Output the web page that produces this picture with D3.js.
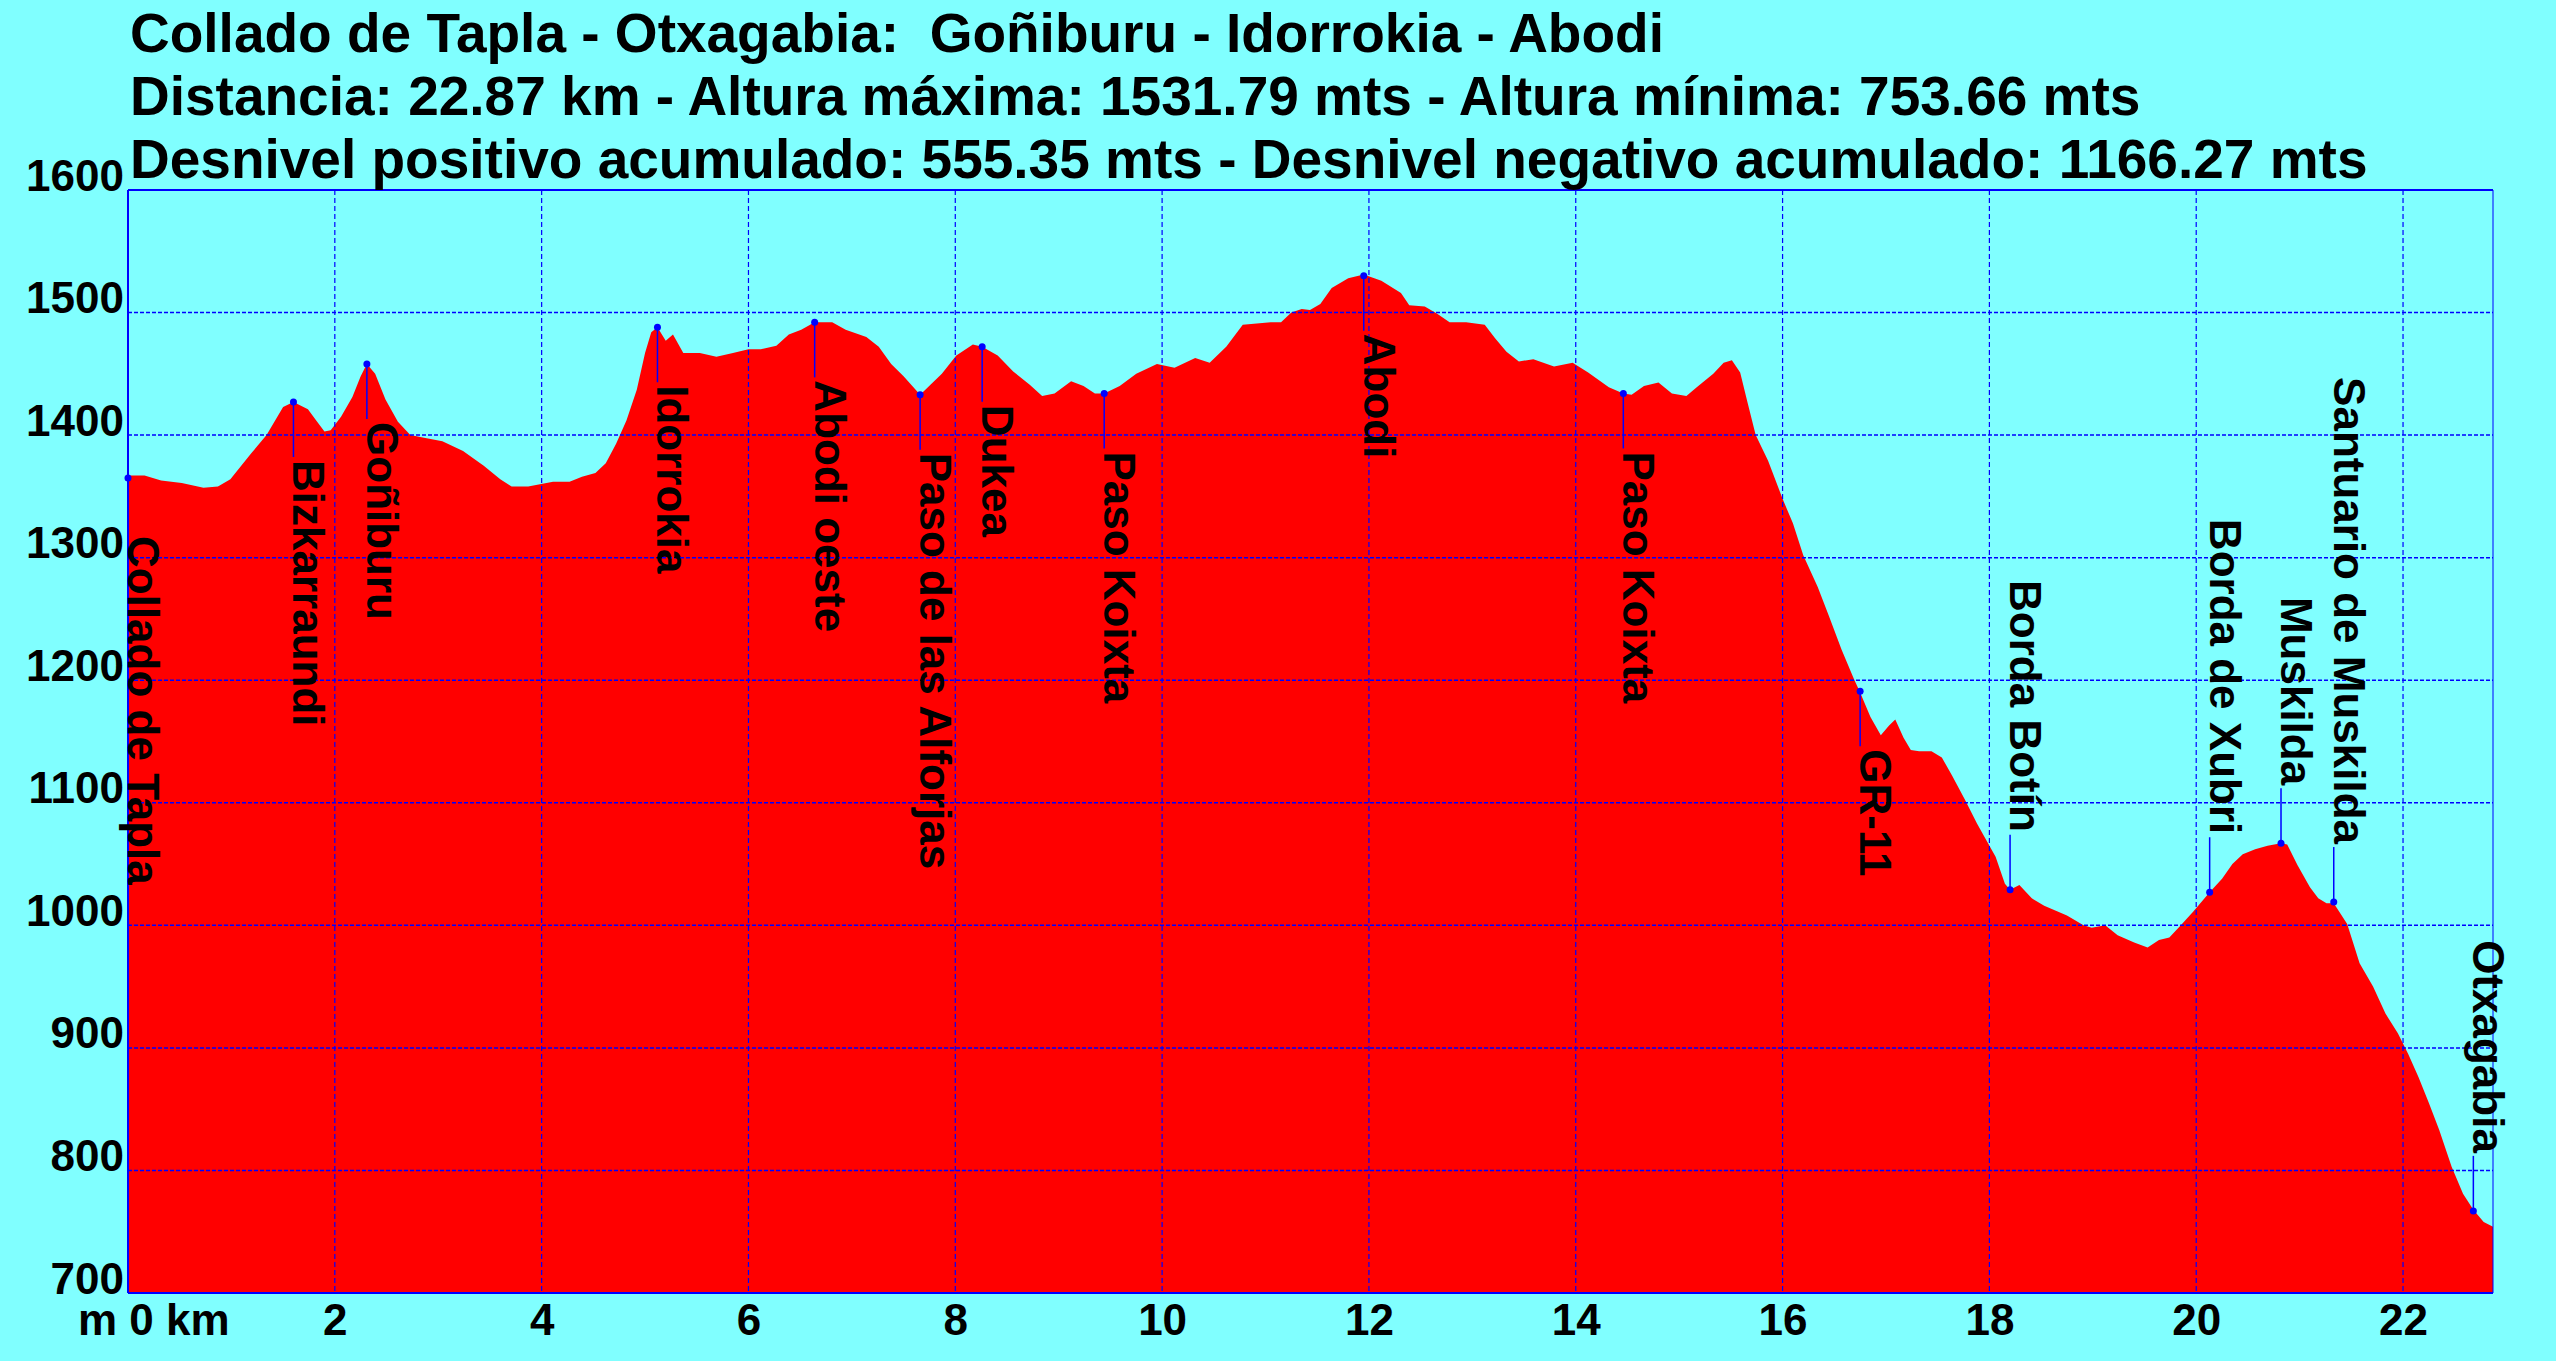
<!DOCTYPE html>
<html>
<head>
<meta charset="utf-8">
<script src="https://cdn.jsdelivr.net/npm/d3@7"></script>
<style>
  html, body { margin: 0; padding: 0; background: #80ffff; }
  svg { display: block; }
  text { font-family: "Liberation Sans", Arial, sans-serif; font-weight: bold; fill: #000; white-space: pre; }
</style>
</head>
<body>
<div id="chart"></div>
<script>
// titles
var titleLines = [
  "Collado de Tapla - Otxagabia:  Goñiburu - Idorrokia - Abodi",
  "Distancia: 22.87 km - Altura máxima: 1531.79 mts - Altura mínima: 753.66 mts",
  "Desnivel positivo acumulado: 555.35 mts - Desnivel negativo acumulado: 1166.27 mts"
];

// profile (km, metres)
var distanceKm = [
  0.00, 0.16, 0.32, 0.52, 0.73, 0.87, 0.99, 1.19, 1.34, 1.50, 1.60, 1.74, 1.82, 1.90, 1.96,
  2.06, 2.17, 2.25, 2.31, 2.39, 2.49, 2.61, 2.73, 2.85, 3.04, 3.24, 3.44, 3.60, 3.71, 3.87,
  4.11, 4.27, 4.39, 4.52, 4.62, 4.72, 4.82, 4.92, 5.00, 5.06, 5.12, 5.20, 5.27, 5.37, 5.53,
  5.69, 5.85, 6.00, 6.12, 6.27, 6.39, 6.51, 6.64, 6.81, 6.94, 7.14, 7.26, 7.38, 7.50, 7.66,
  7.77, 7.87, 8.01, 8.17, 8.26, 8.41, 8.56, 8.72, 8.84, 8.96, 9.12, 9.24, 9.35, 9.44, 9.59,
  9.75, 9.95, 10.12, 10.32, 10.46, 10.62, 10.78, 11.05, 11.15, 11.25, 11.35, 11.43, 11.53, 11.64, 11.80,
  11.95, 12.12, 12.31, 12.39, 12.54, 12.66, 12.78, 12.94, 13.12, 13.22, 13.33, 13.45, 13.59, 13.79, 13.97,
  14.12, 14.32, 14.46, 14.54, 14.66, 14.80, 14.93, 15.07, 15.17, 15.33, 15.43, 15.51, 15.59, 15.66, 15.74,
  15.86, 16.00, 16.10, 16.20, 16.34, 16.45, 16.57, 16.69, 16.75, 16.85, 16.95, 17.03, 17.09, 17.17, 17.24,
  17.32, 17.44, 17.54, 17.64, 17.76, 17.88, 17.98, 18.06, 18.15, 18.20, 18.29, 18.41, 18.53, 18.75, 18.91,
  18.99, 19.12, 19.24, 19.40, 19.53, 19.64, 19.74, 19.84, 19.97, 20.13, 20.25, 20.35, 20.45, 20.57, 20.69,
  20.82, 20.88, 20.98, 21.10, 21.18, 21.26, 21.33, 21.46, 21.58, 21.71, 21.83, 21.95, 22.05, 22.15, 22.25,
  22.35, 22.47, 22.58, 22.68, 22.78, 22.87
];
var elevationM = [
  1367, 1367, 1363, 1361, 1357, 1358, 1364, 1385, 1400, 1423, 1427, 1421, 1412, 1403, 1404,
  1415, 1431, 1448, 1458, 1450, 1429, 1411, 1400, 1398, 1395, 1387, 1375, 1364, 1358, 1358,
  1362, 1362, 1366, 1369, 1377, 1393, 1412, 1437, 1467, 1484, 1488, 1477, 1482, 1467, 1467,
  1464, 1467, 1470, 1470, 1473, 1482, 1486, 1492, 1492, 1486, 1480, 1472, 1458, 1448, 1433,
  1442, 1450, 1465, 1474, 1472, 1465, 1452, 1441, 1432, 1434, 1444, 1440, 1434, 1434, 1440,
  1450, 1458, 1455, 1463, 1459, 1472, 1490, 1492, 1492, 1500, 1503, 1502, 1507, 1520, 1528,
  1531, 1526, 1516, 1506, 1505, 1499, 1492, 1492, 1490, 1479, 1468, 1460, 1462, 1456, 1459,
  1451, 1439, 1434, 1433, 1440, 1443, 1434, 1432, 1439, 1450, 1459, 1461, 1451, 1427, 1400,
  1379, 1348, 1328, 1302, 1276, 1252, 1225, 1201, 1190, 1170, 1155, 1163, 1168, 1153, 1143,
  1142, 1142, 1137, 1122, 1103, 1083, 1068, 1056, 1034, 1029, 1033, 1022, 1016, 1008, 1000,
  998, 1000, 992, 986, 982, 988, 990, 999, 1011, 1027, 1038, 1050, 1058, 1062, 1065,
  1067, 1066, 1049, 1031, 1022, 1018, 1018, 1001, 969, 950, 928, 912, 895, 876, 855,
  833, 803, 781, 768, 758, 754
];

// waypoints
var wpNames = ["Collado de Tapla", "Bizkarraundi", "Goñiburu", "Idorrokia", "Abodi oeste",
  "Paso de las Alforjas", "Dukea", "Paso Koixta", "Abodi", "Paso Koixta", "GR-11",
  "Borda Botín", "Borda de Xubri", "Muskilda", "Santuario de Muskilda", "Otxagabia"];
var wpKm = [0.00, 1.60, 2.31, 5.12, 6.64, 7.66, 8.26, 9.44, 11.95, 14.46, 16.75, 18.20, 20.13, 20.82, 21.33, 22.68];
var wpElev = [1365, 1427, 1458, 1488, 1492, 1433, 1472, 1434, 1530, 1434, 1191, 1029, 1027, 1067, 1019, 767];

// axes
var xTicks = [0, 2, 4, 6, 8, 10, 12, 14, 16, 18, 20, 22];
var yTicks = [700, 800, 900, 1000, 1100, 1200, 1300, 1400, 1500, 1600];
var totalKm = 22.87;

var W = 2556, H = 1361;
var margin = {top: 190, right: 63, bottom: 68, left: 128};
var width = W - margin.left - margin.right;
var height = H - margin.top - margin.bottom;

var svg = d3.select("#chart").append("svg")
  .attr("width", W).attr("height", H);

svg.append("rect").attr("width", W).attr("height", H).attr("fill", "#80ffff");

var g = svg.append("g").attr("transform", "translate(" + margin.left + "," + margin.top + ")");

var x = d3.scaleLinear().domain([0, totalKm]).range([0, width]);
var y = d3.scaleLinear().domain([700, 1600]).range([height, 0]);

var profile = distanceKm.map(function(d, i){ return {km: d, m: elevationM[i]}; });

var area = d3.area()
  .x(function(d){ return x(d.km); })
  .y0(height)
  .y1(function(d){ return y(d.m); });

g.append("path").datum(profile)
  .attr("d", area)
  .attr("fill", "#ff0000");

// grid
g.append("g").selectAll("line").data(yTicks.slice(1, -1)).enter().append("line")
  .attr("x1", 0).attr("x2", width)
  .attr("y1", function(d){ return y(d); }).attr("y2", function(d){ return y(d); })
  .attr("stroke", "#0000ff").attr("stroke-width", 1.5)
  .attr("stroke-dasharray", "4,2");

g.append("g").selectAll("line").data(xTicks.slice(1)).enter().append("line")
  .attr("y1", 0).attr("y2", height)
  .attr("x1", function(d){ return x(d); }).attr("x2", function(d){ return x(d); })
  .attr("stroke", "#0000ff").attr("stroke-width", 1.2)
  .attr("stroke-dasharray", "5,3");

// frame
g.append("line").attr("x1", 0).attr("x2", width).attr("y1", 0).attr("y2", 0)
  .attr("stroke", "#0000ff").attr("stroke-width", 2);
g.append("line").attr("x1", 0).attr("x2", width).attr("y1", height).attr("y2", height)
  .attr("stroke", "#0000ff").attr("stroke-width", 2);
g.append("line").attr("x1", 0).attr("x2", 0).attr("y1", 0).attr("y2", height)
  .attr("stroke", "#0000ff").attr("stroke-width", 2);
g.append("line").attr("x1", width).attr("x2", width).attr("y1", 0).attr("y2", height)
  .attr("stroke", "#0000ff").attr("stroke-width", 1);

// waypoints: labels go under the point, or above it in the lower half of the chart
var mid = (y.domain()[0] + y.domain()[1]) / 2;
var wps = wpNames.map(function(n, i){ return {name: n, km: wpKm[i], m: wpElev[i], up: wpElev[i] < mid}; });

var wp = g.append("g").selectAll("g").data(wps).enter().append("g");

wp.append("line")
  .attr("x1", function(d){ return x(d.km); }).attr("x2", function(d){ return x(d.km); })
  .attr("y1", function(d){ return y(d.m); })
  .attr("y2", function(d){ return y(d.m) + (d.up ? -55 : 55); })
  .attr("stroke", "#0000ff").attr("stroke-width", 1.5);

wp.append("circle")
  .attr("cx", function(d){ return x(d.km); })
  .attr("cy", function(d){ return y(d.m); })
  .attr("r", 3.5)
  .attr("fill", "#0000ff");

wp.append("text")
  .attr("transform", function(d){
    return "translate(" + x(d.km) + "," + (y(d.m) + (d.up ? -58 : 58)) + ") rotate(90)";
  })
  .attr("text-anchor", function(d){ return d.up ? "end" : "start"; })
  .style("font-size", "44px")
  .text(function(d){ return d.name; });

// axes
var yAxis = g.append("g").call(d3.axisLeft(y).tickValues(yTicks).tickFormat(d3.format("d")).tickSize(0).tickPadding(4));
yAxis.select(".domain").remove();
yAxis.selectAll("text")
  .attr("dy", 0)
  .style("font-size", "44px")
  .style("font-family", "'Liberation Sans', Arial, sans-serif")
  .style("font-weight", "bold")
  .attr("fill", "#000");

var xAxis = g.append("g").attr("transform", "translate(0," + height + ")")
  .call(d3.axisBottom(x).tickValues(xTicks.slice(1)).tickFormat(d3.format("d")).tickSize(0));
xAxis.select(".domain").remove();
xAxis.selectAll("text")
  .attr("y", 42).attr("dy", 0)
  .style("font-size", "44px")
  .style("font-family", "'Liberation Sans', Arial, sans-serif")
  .style("font-weight", "bold")
  .attr("fill", "#000");

g.append("text")
  .attr("x", -50).attr("y", height + 42)
  .style("font-size", "44px")
  .text("m " + xTicks[0] + " km");

// title block
svg.append("g").selectAll("text").data(titleLines).enter().append("text")
  .attr("x", 130)
  .attr("y", function(d, i){ return 52 + i * 63; })
  .attr("xml:space", "preserve")
  .style("font-size", "55px")
  .text(function(d){ return d; });
</script>
</body>
</html>
